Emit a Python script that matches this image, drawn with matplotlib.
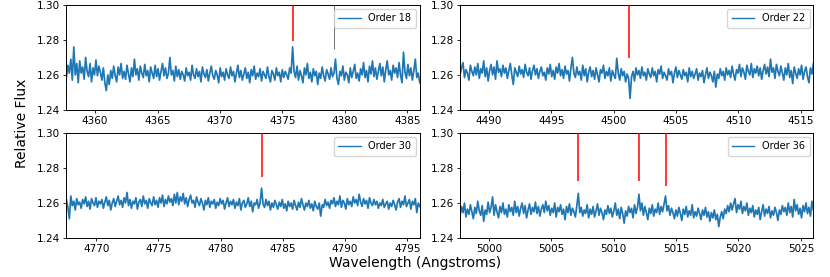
import numpy as np
import matplotlib
matplotlib.use("Agg")
import matplotlib.pyplot as plt

# ---------------- data ----------------
orders = [18, 22, 30, 36]
wl_ranges = [(4357.7, 4386.0), (4487.7, 4516.0), (4767.6, 4796.0), (4997.7, 5026.0)]

flux_18 = [
 1.2585, 1.2655, 1.2610, 1.2690, 1.2570, 1.2760, 1.2600, 1.2665, 1.2555, 1.2680,
 1.2610, 1.2645, 1.2575, 1.2700, 1.2620, 1.2590, 1.2665, 1.2560, 1.2640, 1.2600,
 1.2685, 1.2595, 1.2650, 1.2615, 1.2570, 1.2640, 1.2555, 1.2510, 1.2600, 1.2545,
 1.2625, 1.2580, 1.2650, 1.2595, 1.2560, 1.2645, 1.2600, 1.2665, 1.2580, 1.2620,
 1.2575, 1.2655, 1.2605, 1.2560, 1.2640, 1.2590, 1.2690, 1.2600, 1.2635, 1.2570,
 1.2650, 1.2610, 1.2585, 1.2660, 1.2595, 1.2625, 1.2560, 1.2645, 1.2610, 1.2580,
 1.2655, 1.2590, 1.2635, 1.2570, 1.2620, 1.2665, 1.2595, 1.2640, 1.2580, 1.2610,
 1.2700, 1.2600, 1.2625, 1.2565, 1.2650, 1.2590, 1.2630, 1.2575, 1.2620, 1.2600,
 1.2565, 1.2640, 1.2595, 1.2615, 1.2570, 1.2655, 1.2600, 1.2580, 1.2635, 1.2590,
 1.2620, 1.2560, 1.2645, 1.2605, 1.2585, 1.2630, 1.2565, 1.2610, 1.2650, 1.2595,
 1.2575, 1.2625, 1.2600, 1.2555, 1.2640, 1.2590, 1.2615, 1.2570, 1.2635, 1.2600,
 1.2580, 1.2645, 1.2595, 1.2620, 1.2560, 1.2610, 1.2655, 1.2585, 1.2625, 1.2570,
 1.2605, 1.2640, 1.2580, 1.2615, 1.2555, 1.2630, 1.2595, 1.2650, 1.2575, 1.2610,
 1.2590, 1.2635, 1.2565, 1.2620, 1.2600, 1.2580, 1.2645, 1.2590, 1.2560, 1.2625,
 1.2605, 1.2570, 1.2640, 1.2595, 1.2615, 1.2560, 1.2630, 1.2585, 1.2620, 1.2600,
 1.2575, 1.2640, 1.2610, 1.2760, 1.2620, 1.2585, 1.2650, 1.2570, 1.2625, 1.2595,
 1.2555, 1.2640, 1.2600, 1.2665, 1.2580, 1.2615, 1.2560, 1.2635, 1.2595, 1.2620,
 1.2545, 1.2610, 1.2580, 1.2645, 1.2595, 1.2565, 1.2630, 1.2605, 1.2575, 1.2640,
 1.2590, 1.2610, 1.2690, 1.2580, 1.2545, 1.2620, 1.2595, 1.2650, 1.2570, 1.2615,
 1.2600, 1.2555, 1.2640, 1.2585, 1.2620, 1.2660, 1.2580, 1.2610, 1.2565, 1.2635,
 1.2600, 1.2670, 1.2585, 1.2625, 1.2560, 1.2650, 1.2605, 1.2680, 1.2590, 1.2640,
 1.2575, 1.2620, 1.2665, 1.2595, 1.2645, 1.2560, 1.2630, 1.2680, 1.2600, 1.2625,
 1.2570, 1.2655, 1.2610, 1.2640, 1.2585, 1.2670, 1.2600, 1.2555, 1.2730, 1.2615,
 1.2580, 1.2660, 1.2595, 1.2640, 1.2570, 1.2625, 1.2690, 1.2585, 1.2610, 1.2555,
]

flux_22 = [
 1.2600, 1.2640, 1.2670, 1.2585, 1.2630, 1.2610, 1.2570, 1.2655, 1.2620, 1.2595,
 1.2645, 1.2600, 1.2665, 1.2580, 1.2635, 1.2610, 1.2680, 1.2590, 1.2640, 1.2565,
 1.2625, 1.2660, 1.2600, 1.2645, 1.2575, 1.2680, 1.2615, 1.2635, 1.2590, 1.2655,
 1.2610, 1.2640, 1.2580, 1.2625, 1.2665, 1.2600, 1.2545, 1.2640, 1.2615, 1.2590,
 1.2650, 1.2605, 1.2630, 1.2585, 1.2660, 1.2615, 1.2595, 1.2640, 1.2575, 1.2625,
 1.2655, 1.2600, 1.2635, 1.2580, 1.2620, 1.2645, 1.2595, 1.2615, 1.2570, 1.2640,
 1.2605, 1.2660, 1.2590, 1.2625, 1.2575, 1.2645, 1.2610, 1.2665, 1.2595, 1.2630,
 1.2580, 1.2650, 1.2605, 1.2625, 1.2565, 1.2640, 1.2700, 1.2610, 1.2585, 1.2645,
 1.2600, 1.2620, 1.2570, 1.2655, 1.2595, 1.2635, 1.2560, 1.2615, 1.2645, 1.2590,
 1.2625, 1.2575, 1.2640, 1.2600, 1.2560, 1.2630, 1.2610, 1.2655, 1.2580, 1.2620,
 1.2595, 1.2640, 1.2565, 1.2625, 1.2600, 1.2580, 1.2695, 1.2610, 1.2570, 1.2635,
 1.2595, 1.2620, 1.2560, 1.2605, 1.2580, 1.2465, 1.2590, 1.2620, 1.2565, 1.2640,
 1.2600, 1.2625, 1.2580, 1.2645, 1.2595, 1.2615, 1.2570, 1.2635, 1.2605, 1.2585,
 1.2640, 1.2595, 1.2620, 1.2560, 1.2630, 1.2605, 1.2650, 1.2580, 1.2615, 1.2595,
 1.2570, 1.2635, 1.2600, 1.2620, 1.2555, 1.2610, 1.2645, 1.2585, 1.2625, 1.2600,
 1.2575, 1.2630, 1.2595, 1.2615, 1.2560, 1.2640, 1.2590, 1.2620, 1.2580, 1.2605,
 1.2635, 1.2570, 1.2610, 1.2590, 1.2625, 1.2555, 1.2600, 1.2640, 1.2580, 1.2615,
 1.2595, 1.2560, 1.2620, 1.2530, 1.2605, 1.2580, 1.2635, 1.2595, 1.2620, 1.2570,
 1.2640, 1.2600, 1.2625, 1.2585, 1.2650, 1.2605, 1.2570, 1.2630, 1.2610, 1.2660,
 1.2590, 1.2640, 1.2615, 1.2575, 1.2655, 1.2620, 1.2600, 1.2665, 1.2585, 1.2635,
 1.2610, 1.2650, 1.2595, 1.2640, 1.2575, 1.2625, 1.2660, 1.2605, 1.2645, 1.2590,
 1.2690, 1.2615, 1.2640, 1.2580, 1.2660, 1.2620, 1.2595, 1.2650, 1.2610, 1.2570,
 1.2640, 1.2600, 1.2665, 1.2585, 1.2625, 1.2550, 1.2645, 1.2610, 1.2580, 1.2635,
 1.2600, 1.2655, 1.2575, 1.2620, 1.2645, 1.2590, 1.2555, 1.2640, 1.2605, 1.2665,
]

flux_30 = [
 1.2620, 1.2575, 1.2510, 1.2640, 1.2585, 1.2610, 1.2560, 1.2625, 1.2590, 1.2605,
 1.2570, 1.2620, 1.2595, 1.2635, 1.2580, 1.2610, 1.2565, 1.2625, 1.2600, 1.2585,
 1.2630, 1.2575, 1.2610, 1.2595, 1.2620, 1.2570, 1.2605, 1.2635, 1.2585, 1.2615,
 1.2560, 1.2600, 1.2625, 1.2580, 1.2610, 1.2640, 1.2590, 1.2615, 1.2575, 1.2630,
 1.2600, 1.2660, 1.2585, 1.2620, 1.2570, 1.2610, 1.2595, 1.2630, 1.2565, 1.2605,
 1.2620, 1.2580, 1.2640, 1.2595, 1.2615, 1.2570, 1.2625, 1.2600, 1.2585, 1.2635,
 1.2590, 1.2615, 1.2575, 1.2630, 1.2600, 1.2645, 1.2580, 1.2620, 1.2595, 1.2640,
 1.2605, 1.2625, 1.2585, 1.2650, 1.2600, 1.2660, 1.2590, 1.2635, 1.2610, 1.2655,
 1.2595, 1.2630, 1.2580, 1.2620, 1.2645, 1.2600, 1.2615, 1.2575, 1.2635, 1.2605,
 1.2585, 1.2625, 1.2600, 1.2560, 1.2615, 1.2590, 1.2630, 1.2575, 1.2610, 1.2595,
 1.2620, 1.2570, 1.2605, 1.2585, 1.2625, 1.2595, 1.2615, 1.2565, 1.2600, 1.2630,
 1.2580, 1.2610, 1.2590, 1.2620, 1.2570, 1.2605, 1.2585, 1.2625, 1.2560, 1.2600,
 1.2615, 1.2575, 1.2595, 1.2630, 1.2580, 1.2610, 1.2550, 1.2600, 1.2590, 1.2620,
 1.2570, 1.2600, 1.2685, 1.2595, 1.2575, 1.2620, 1.2585, 1.2610, 1.2560, 1.2600,
 1.2575, 1.2615, 1.2590, 1.2565, 1.2605, 1.2580, 1.2620, 1.2570, 1.2595, 1.2555,
 1.2610, 1.2580, 1.2600, 1.2565, 1.2615, 1.2585, 1.2560, 1.2605, 1.2575, 1.2625,
 1.2590, 1.2560, 1.2600, 1.2580, 1.2615, 1.2570, 1.2595, 1.2555, 1.2610, 1.2580,
 1.2565, 1.2600, 1.2525, 1.2590, 1.2575, 1.2620, 1.2585, 1.2605, 1.2570, 1.2615,
 1.2595, 1.2630, 1.2580, 1.2610, 1.2590, 1.2640, 1.2575, 1.2615, 1.2600, 1.2565,
 1.2625, 1.2590, 1.2610, 1.2580, 1.2635, 1.2600, 1.2620, 1.2585, 1.2650, 1.2605,
 1.2580, 1.2625, 1.2595, 1.2615, 1.2570, 1.2630, 1.2600, 1.2585, 1.2620, 1.2590,
 1.2610, 1.2570, 1.2600, 1.2585, 1.2620, 1.2575, 1.2595, 1.2610, 1.2565, 1.2600,
 1.2580, 1.2615, 1.2590, 1.2560, 1.2605, 1.2625, 1.2575, 1.2610, 1.2590, 1.2640,
 1.2580, 1.2600, 1.2620, 1.2565, 1.2610, 1.2590, 1.2625, 1.2545, 1.2600, 1.2580,
]

flux_36 = [
 1.2525, 1.2580, 1.2545, 1.2600, 1.2520, 1.2565, 1.2535, 1.2590, 1.2550, 1.2510,
 1.2575, 1.2540, 1.2610, 1.2555, 1.2530, 1.2585, 1.2495, 1.2560, 1.2535, 1.2605,
 1.2545, 1.2575, 1.2635, 1.2530, 1.2590, 1.2550, 1.2515, 1.2580, 1.2545, 1.2600,
 1.2535, 1.2565, 1.2520, 1.2590, 1.2550, 1.2575, 1.2530, 1.2610, 1.2545, 1.2580,
 1.2525, 1.2570, 1.2600, 1.2540, 1.2585, 1.2515, 1.2560, 1.2595, 1.2535, 1.2575,
 1.2550, 1.2605, 1.2540, 1.2580, 1.2525, 1.2565, 1.2590, 1.2545, 1.2610, 1.2555,
 1.2585, 1.2530, 1.2570, 1.2545, 1.2600, 1.2520, 1.2575, 1.2550, 1.2590, 1.2535,
 1.2565, 1.2505, 1.2580, 1.2545, 1.2595, 1.2530, 1.2570, 1.2550, 1.2520, 1.2585,
 1.2655, 1.2545, 1.2575, 1.2525, 1.2560, 1.2540, 1.2590, 1.2515, 1.2565, 1.2535,
 1.2580, 1.2520, 1.2555, 1.2595, 1.2530, 1.2570, 1.2545, 1.2505, 1.2560, 1.2535,
 1.2585, 1.2540, 1.2570, 1.2520, 1.2555, 1.2600, 1.2530, 1.2565, 1.2510, 1.2575,
 1.2540, 1.2485, 1.2555, 1.2525, 1.2580, 1.2545, 1.2570, 1.2515, 1.2590, 1.2540,
 1.2575, 1.2650, 1.2555, 1.2600, 1.2530, 1.2580, 1.2545, 1.2505, 1.2570, 1.2540,
 1.2590, 1.2525, 1.2565, 1.2545, 1.2600, 1.2535, 1.2580, 1.2550, 1.2595, 1.2640,
 1.2555, 1.2585, 1.2530, 1.2570, 1.2545, 1.2510, 1.2560, 1.2525, 1.2575, 1.2540,
 1.2500, 1.2565, 1.2535, 1.2580, 1.2520, 1.2555, 1.2530, 1.2590, 1.2515, 1.2550,
 1.2525, 1.2570, 1.2540, 1.2505, 1.2560, 1.2530, 1.2575, 1.2520, 1.2550, 1.2495,
 1.2545, 1.2515, 1.2560, 1.2505, 1.2535, 1.2465, 1.2520, 1.2550, 1.2510, 1.2565,
 1.2540, 1.2585, 1.2550, 1.2600, 1.2560, 1.2595, 1.2625, 1.2545, 1.2590, 1.2565,
 1.2610, 1.2540, 1.2580, 1.2555, 1.2600, 1.2530, 1.2570, 1.2545, 1.2585, 1.2520,
 1.2560, 1.2535, 1.2575, 1.2505, 1.2550, 1.2590, 1.2525, 1.2565, 1.2540, 1.2580,
 1.2515, 1.2555, 1.2530, 1.2575, 1.2545, 1.2500, 1.2560, 1.2535, 1.2585, 1.2550,
 1.2575, 1.2530, 1.2600, 1.2545, 1.2580, 1.2520, 1.2620, 1.2555, 1.2590, 1.2535,
 1.2570, 1.2515, 1.2585, 1.2550, 1.2600, 1.2540, 1.2575, 1.2525, 1.2610, 1.2560,
]

fluxes = [flux_18, flux_22, flux_30, flux_36]

# marked lines: wavelength and lower end of the marker (markers reach to 1.30)
red_wl = [[4375.85], [4501.25], [4783.3], [5007.15, 5012.0, 5014.2]]
red_low = [[1.2796], [1.2697], [1.2746], [1.2727, 1.2727, 1.2699]]
gray_wl = [[4379.15], [], [], []]
gray_low = [[1.2747], [], [], []]

y_ticks = [1.24, 1.26, 1.28, 1.30]
y_lim = (1.24, 1.30)

# ---------------- plot ----------------
fig, axes = plt.subplots(2, 2, figsize=(8.3, 2.77), dpi=100)
fig.subplots_adjust(left=0.080, right=0.980, top=0.982, bottom=0.141,
                    wspace=0.114, hspace=0.222)

for ax, order, (w0, w1), flux, rw, rl, gw, gl in zip(
        axes.flat, orders, wl_ranges, fluxes, red_wl, red_low, gray_wl, gray_low):
    wl = np.linspace(w0, w1, len(flux))
    ax.plot(wl, flux, color="#1f77b4", lw=1.25, label=f"Order {order}")
    if rw:
        ax.vlines(rw, rl, [y_lim[1]] * len(rw), colors="red", lw=1.1, zorder=3)
    if gw:
        ax.vlines(gw, gl, [y_lim[1]] * len(gw), colors="0.35", lw=0.6, zorder=3)
    ax.set_xlim(w0, w1)
    ax.set_ylim(*y_lim)
    ax.set_yticks(y_ticks)
    ax.yaxis.set_major_formatter(matplotlib.ticker.FormatStrFormatter("%.2f"))
    ax.xaxis.set_major_locator(matplotlib.ticker.MultipleLocator(5))
    ax.tick_params(labelsize=7.5, length=2.5, width=0.6, pad=2)
    for s in ax.spines.values():
        s.set_linewidth(0.7)
    leg = ax.legend(loc="upper right", fontsize=7, handlelength=2.3,
                    borderpad=0.45, handletextpad=0.8, borderaxespad=0.4)
    for h in leg.get_lines():
        h.set_linewidth(1.0)

fig.text(0.5, 0.05, "Wavelength (Angstroms)", ha="center", va="center", fontsize=10)
fig.text(0.0265, 0.556, "Relative Flux", ha="center", va="center",
         rotation=90, fontsize=10)

fig.savefig("out.png", dpi=100)
